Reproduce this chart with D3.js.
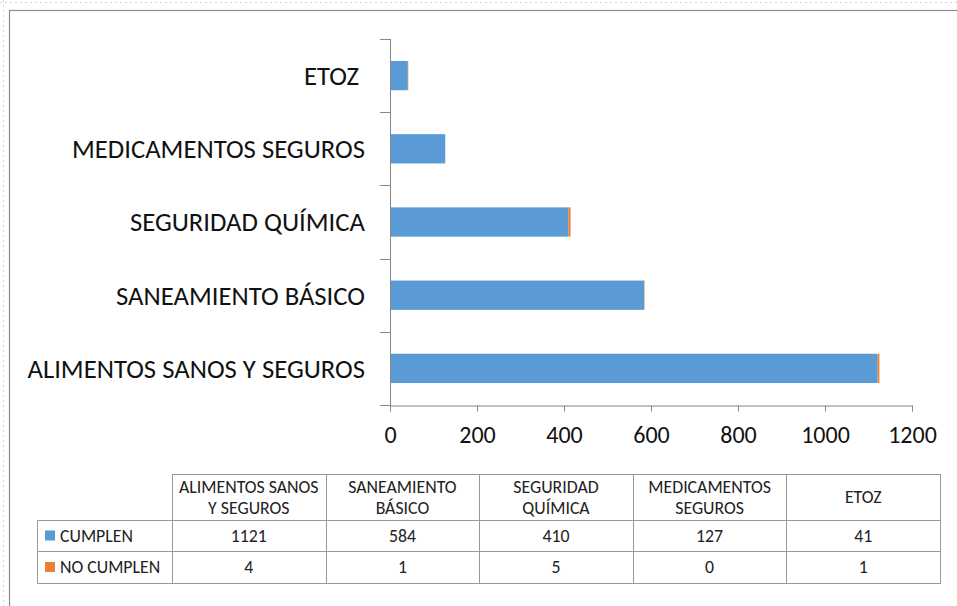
<!DOCTYPE html>
<html>
<head>
<meta charset="utf-8">
<style>
body { margin: 0; background: #fff; }
text { font-family: Calibri, Carlito, "Open Sans", "Noto Sans", sans-serif; white-space: pre; }
</style>
</head>
<body>
<script src="https://d3js.org/d3.v7.min.js"></script>
<script>
// datos del gráfico
var categories = ['ALIMENTOS SANOS Y SEGUROS', 'SANEAMIENTO BÁSICO', 'SEGURIDAD QUÍMICA', 'MEDICAMENTOS SEGUROS', 'ETOZ '];
var headerLines = [['ALIMENTOS SANOS', 'Y SEGUROS'], ['SANEAMIENTO', 'BÁSICO'], ['SEGURIDAD', 'QUÍMICA'], ['MEDICAMENTOS', 'SEGUROS'], ['ETOZ']];
var cumplen = [1121, 584, 410, 127, 41];
var noCumplen = [4, 1, 5, 0, 1];
var seriesNames = ['CUMPLEN', 'NO CUMPLEN'];
var xTicks = [0, 200, 400, 600, 800, 1000, 1200];

var width = 957, height = 606;
var colors = ['#5B9BD5', '#ED7D31'];

var svg = d3.select('body').append('svg')
  .attr('width', width)
  .attr('height', height);

// rejilla punteada de fondo (hoja de Excel)
svg.append('line').attr('x1', 0).attr('x2', width).attr('y1', 2.5).attr('y2', 2.5)
  .attr('stroke', '#c5d9f1').attr('stroke-dasharray', '2,3');
svg.append('line').attr('x1', 3.5).attr('x2', 3.5).attr('y1', 0).attr('y2', height)
  .attr('stroke', '#c5d9f1').attr('stroke-dasharray', '2,3');

// marco del gráfico
svg.append('rect')
  .attr('x', 9.5).attr('y', 10.5)
  .attr('width', width + 20).attr('height', height + 20)
  .attr('fill', '#fff').attr('stroke', '#8c8c8c').attr('stroke-width', 1.2);

var plot = { left: 390, right: 912, top: 39, bottom: 405 };

var x = d3.scaleLinear().domain([0, 1200]).range([plot.left, plot.right]);
// el primero abajo
var y = d3.scaleBand().domain(categories).range([plot.bottom, plot.top]).paddingInner(0.6).paddingOuter(0.3);
var yEdge = d3.scaleLinear().domain([0, categories.length]).range([plot.bottom, plot.top]);

// barras apiladas
var stackData = categories.map(function(c, i) {
  return { cat: c, CUMPLEN: cumplen[i], 'NO CUMPLEN': noCumplen[i] };
});
var stacked = d3.stack().keys(seriesNames)(stackData);

svg.append('g').selectAll('g')
  .data(stacked)
  .enter().append('g')
  .attr('fill', function(d, i) { return colors[i]; })
  .selectAll('rect')
  .data(function(d) { return d; })
  .enter().append('rect')
  .attr('x', function(d) { return x(d[0]); })
  .attr('width', function(d) { return x(d[1]) - x(d[0]); })
  .attr('y', function(d) { return y(d.data.cat); })
  .attr('height', y.bandwidth());

// eje Y
var axisColor = '#868686';
svg.append('line')
  .attr('x1', plot.left + 0.5).attr('x2', plot.left + 0.5)
  .attr('y1', plot.top).attr('y2', plot.bottom + 6)
  .attr('stroke', axisColor);
svg.append('g').selectAll('line')
  .data(d3.range(categories.length + 1))
  .enter().append('line')
  .attr('x1', plot.left - 10).attr('x2', plot.left)
  .attr('y1', function(d) { return Math.round(yEdge(d)) + 0.5; })
  .attr('y2', function(d) { return Math.round(yEdge(d)) + 0.5; })
  .attr('stroke', axisColor);

svg.append('g').selectAll('text')
  .data(categories)
  .enter().append('text')
  .attr('x', 365)
  .attr('y', function(d) { return y(d) + y.bandwidth() / 2; })
  .attr('dy', '0.35em')
  .attr('text-anchor', 'end')
  .attr('font-size', 26.7)
  .attr('fill', '#111')
  .text(function(d) { return d; });

// eje X
var xAxis = d3.axisBottom(x).tickValues(xTicks).tickSize(6).tickPadding(14).tickFormat(d3.format('d'));
var gx = svg.append('g')
  .attr('transform', 'translate(0,' + (plot.bottom + 0.5) + ')')
  .call(xAxis);
gx.select('.domain').attr('stroke', axisColor);
gx.selectAll('.tick line').attr('stroke', axisColor);
gx.selectAll('.tick text')
  .attr('font-size', 24)
  .attr('fill', '#111')
  .style('font-family', 'Calibri, Carlito, "Open Sans", "Noto Sans", sans-serif');

// tabla de datos
var tbl = { left: 37, first: 172, right: 940, top: 474, h1: 520, h2: 551, bottom: 583 };
var col = d3.scaleBand().domain(categories).range([tbl.first, tbl.right]);
var lineColor = '#999';
var fs = 17.8;
var t = svg.append('g');

// líneas horizontales
[[tbl.first, tbl.top], [tbl.left, tbl.h1], [tbl.left, tbl.h2], [tbl.left, tbl.bottom]].forEach(function(r) {
  t.append('line').attr('x1', r[0]).attr('x2', tbl.right)
    .attr('y1', r[1] + 0.5).attr('y2', r[1] + 0.5)
    .attr('stroke', lineColor);
});
// líneas verticales
t.append('line').attr('x1', tbl.left + 0.5).attr('x2', tbl.left + 0.5)
  .attr('y1', tbl.h1).attr('y2', tbl.bottom + 1).attr('stroke', lineColor);
t.selectAll('.vline')
  .data(categories.concat(['end']))
  .enter().append('line')
  .attr('x1', function(d, i) { return Math.round(i < categories.length ? col(d) : tbl.right) + 0.5; })
  .attr('x2', function(d, i) { return Math.round(i < categories.length ? col(d) : tbl.right) + 0.5; })
  .attr('y1', tbl.top).attr('y2', tbl.bottom + 1)
  .attr('stroke', lineColor);

// encabezados
categories.forEach(function(c, i) {
  var lines = headerLines[i];
  var cy = (tbl.top + tbl.h1) / 2;
  var txt = t.append('text')
    .attr('x', col(c) + col.bandwidth() / 2)
    .attr('text-anchor', 'middle')
    .attr('font-size', fs)
    .attr('fill', '#222');
  lines.forEach(function(l, j) {
    txt.append('tspan')
      .attr('x', col(c) + col.bandwidth() / 2)
      .attr('y', cy + (j - (lines.length - 1) / 2) * 21)
      .attr('dy', '0.35em')
      .text(l);
  });
});

// filas de valores
var rows = [cumplen, noCumplen];
var rowY = [(tbl.h1 + tbl.h2) / 2, (tbl.h2 + tbl.bottom) / 2];
rows.forEach(function(vals, r) {
  t.append('rect')
    .attr('x', 45).attr('y', rowY[r] - 5)
    .attr('width', 10).attr('height', 10)
    .attr('fill', colors[r]);
  t.append('text')
    .attr('x', 60).attr('y', rowY[r]).attr('dy', '0.35em')
    .attr('font-size', fs).attr('fill', '#222')
    .text(seriesNames[r]);
  t.selectAll('.v' + r)
    .data(vals)
    .enter().append('text')
    .attr('x', function(d, i) { return col(categories[i]) + col.bandwidth() / 2; })
    .attr('y', rowY[r]).attr('dy', '0.35em')
    .attr('text-anchor', 'middle')
    .attr('font-size', fs).attr('fill', '#222')
    .text(function(d) { return d; });
});
</script>
</body>
</html>
